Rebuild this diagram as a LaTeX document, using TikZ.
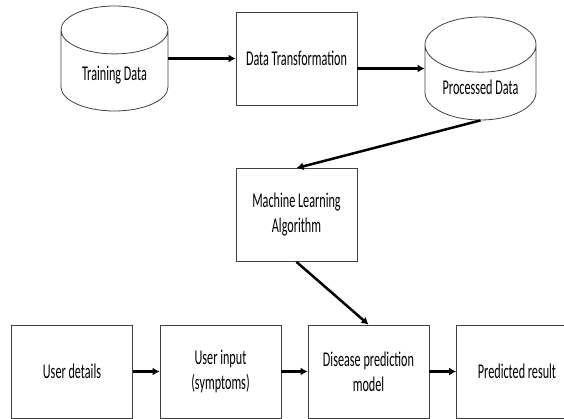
\documentclass[tikz,border=0pt]{standalone}
\usepackage{fontspec}
\setmainfont[FakeStretch=0.58]{Carlito}
\usetikzlibrary{shapes.geometric,arrows.meta}
\tikzset{
  box/.style={draw=black!75, line width=0.8pt, minimum width=121pt, minimum height=93pt, align=center},
  db/.style={cylinder, shape border rotate=90, draw=black!75, line width=0.8pt, aspect=0.67, anchor=shape center},
  arr/.style={line width=2.5pt, -{Latex[length=7pt,width=8pt]}}
}
\begin{document}
\begin{tikzpicture}[x=1pt,y=-1pt,font=\fontsize{21}{25}\selectfont]
  \clip (0,0) rectangle (564,419);
  % Training part
  \node[db, minimum width=107pt, minimum height=105pt] (train) at (114.5,58.5) {Training Data};
  \node[box] (trans) at (296.5,58.5) {Data Transformation};
  \node[db, minimum width=111pt, minimum height=103pt] (proc) at (480.5,68.5) {Processed Data};
  \node[box] (mla) at (296.5,215) {Machine Learning\\Algorithm};
  % Prediction part
  \node[box] (user) at (72,371.5) {User details};
  \node[box] (input) at (220.5,371.5) {User input\\(symptoms)};
  \node[box] (model) at (368.5,371.5) {Disease prediction\\model};
  \node[box] (result) at (517,371.5) {Predicted result};
  % Arrows
  \draw[arr] (train.east |- trans.west) -- (trans.west);
  \draw[arr] (trans.east |- proc.shape center) -- (proc.shape center -| proc.west);
  \draw[arr] (proc.south) -- (mla.north);
  \draw[arr] (mla.south) -- (model.north);
  \draw[arr] (user) -- (input);
  \draw[arr] (input) -- (model);
  \draw[arr] (model) -- (result);
\end{tikzpicture}
\end{document}
